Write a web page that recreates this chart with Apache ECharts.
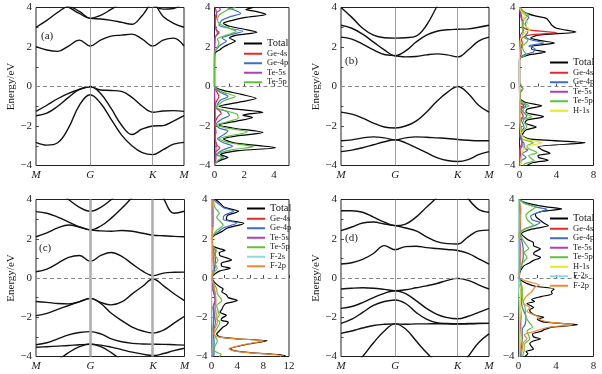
<!DOCTYPE html>
<html><head><meta charset="utf-8">
<script src="https://cdn.jsdelivr.net/npm/echarts@6/dist/echarts.min.js"></script>
<style>html,body{margin:0;padding:0;background:#fff}#c{width:602px;height:374px}</style>
</head><body><div id="c"></div>
<script>
// ---------- k-path ----------
const kPath = [0, 0.5774, 1.2440, 1.5774];
const kLabels = ['M', 'G', 'K', 'M'];
const kSamples = [0, 0.1155, 0.2309, 0.3464, 0.4619, 0.5774, 0.6885, 0.7996, 0.9107, 1.0218, 1.1329, 1.2440, 1.3551, 1.4662, 1.5774];
const eTicks = [-4, -2, 0, 2, 4];

// ---------- bands (a) ----------
const aV1 = [-1.26, -0.95, -0.62, -0.35, -0.15, -0.02, -0.18, -0.2, -0.25, -0.55, -1.0, -1.3, -1.24, -1.22, -1.26];
const aV2 = [-1.48, -1.35, -1.0, -0.55, -0.15, 0.0, -0.35, -1.1, -1.95, -2.43, -2.15, -2.0, -1.98, -1.75, -1.48];
const aV3 = [-2.83, -2.97, -2.85, -2.1, -0.95, -0.42, -0.85, -1.65, -2.45, -3.0, -3.35, -3.45, -3.2, -2.92, -2.83];
const aC1 = [2.02, 1.85, 1.78, 2.05, 2.35, 2.05, 2.35, 2.55, 2.6, 2.65, 2.4, 2.05, 2.35, 2.45, 2.05];
const aC2 = [3.0, 3.35, 3.75, 4.05, 3.8, 3.45, 3.42, 3.35, 3.25, 3.15, 3.6, 4.2, 3.55, 3.2, 3.0];
const aC3 = [4.6, 4.5, 4.3, 4.02, 3.7, 3.45, 3.6, 3.9, 4.2, 4.4, 4.3, 4.1, 3.92, 3.95, 4.3];

// ---------- bands (b) ----------
const bV1 = [-1.3, -1.4, -1.6, -1.85, -2.05, -2.1, -2.0, -1.75, -1.3, -0.75, -0.3, 0.0, -0.35, -0.95, -1.3];
const bV2 = [-2.75, -2.7, -2.6, -2.55, -2.6, -2.7, -2.6, -2.55, -2.57, -2.6, -2.63, -2.68, -2.72, -2.75, -2.75];
const bV3 = [-3.3, -3.22, -3.1, -2.95, -2.8, -2.7, -2.85, -3.1, -3.35, -3.6, -3.75, -3.8, -3.7, -3.45, -3.3];
const bC1 = [2.5, 2.4, 2.15, 1.85, 1.62, 1.56, 1.5, 1.52, 1.6, 1.65, 1.6, 1.5, 1.85, 2.3, 2.5];
const bC2 = [3.1, 2.95, 2.65, 2.25, 1.85, 1.56, 1.8, 2.25, 2.6, 2.8, 2.87, 2.9, 2.92, 3.0, 3.1];
const bC3 = [4.0, 3.5, 2.95, 2.6, 2.47, 2.45, 2.47, 2.55, 3.1, 4.05, 5.0, 5.5, 5.0, 4.5, 4.0];

// ---------- bands (c) ----------
const cV1 = [-1.2, -1.24, -1.3, -1.32, -1.22, -1.04, -1.25, -1.37, -1.22, -0.81, -0.42, -0.05, -0.4, -0.8, -1.15];
const cV2 = [-1.92, -1.8, -1.6, -1.4, -1.2, -1.04, -1.3, -1.8, -2.17, -2.5, -2.7, -2.8, -2.65, -2.3, -1.95];
const cV3 = [-3.4, -3.3, -3.1, -2.9, -2.78, -2.73, -2.85, -3.1, -3.25, -3.33, -3.36, -3.37, -3.38, -3.4, -3.42];
const cV4 = [-3.53, -3.5, -3.47, -3.44, -3.4, -3.38, -3.42, -3.52, -3.65, -3.78, -3.88, -3.95, -3.85, -3.7, -3.58];
const cV5 = [-5.0, -4.6, -4.2, -3.8, -3.5, -3.36, -3.5, -3.8, -4.2, -4.6, -5.0, -5.2, -5.2, -5.2, -5.0];
const cC1 = [0.32, 0.45, 0.75, 1.05, 1.15, 0.85, 1.15, 1.3, 1.1, 0.72, 0.35, 0.12, 0.25, 0.29, 0.3];
const cC2 = [2.1, 2.3, 2.55, 2.7, 2.6, 2.45, 2.4, 2.38, 2.42, 2.38, 2.28, 2.18, 2.15, 2.12, 2.1];
const cC3 = [3.38, 3.3, 3.1, 2.85, 2.6, 2.45, 2.65, 3.05, 3.55, 4.1, 4.6, 5.0, 4.05, 3.3, 3.4];
const cC4 = [5.5, 5.0, 4.5, 4.0, 3.6, 3.4, 3.6, 4.0, 4.5, 5.0, 5.5, 5.8, 5.5, 5.2, 5.5];

// ---------- bands (d) ----------
const dV1 = [-0.56, -0.52, -0.5, -0.52, -0.58, -0.65, -0.6, -0.5, -0.4, -0.28, -0.12, -0.02, -0.12, -0.35, -0.56];
const dV2 = [-1.55, -1.45, -1.25, -1.0, -0.78, -0.65, -0.8, -1.15, -1.55, -1.85, -2.02, -2.08, -1.95, -1.75, -1.55];
const dV3 = [-2.31, -2.1, -1.75, -1.4, -1.2, -1.12, -1.3, -1.75, -2.1, -2.28, -2.32, -2.33, -2.32, -2.31, -2.31];
const dV4 = [-2.82, -2.7, -2.55, -2.42, -2.36, -2.34, -2.6, -3.2, -3.8, -4.3, -4.6, -4.7, -4.0, -3.3, -2.85];
const dV5 = [-5.0, -4.6, -4.0, -3.3, -2.7, -2.34, -2.36, -2.34, -2.34, -2.33, -2.34, -2.35, -2.34, -2.32, -2.31];
const dC1 = [0.71, 0.78, 0.95, 1.25, 1.65, 1.44, 1.6, 1.62, 1.55, 1.5, 1.45, 1.4, 1.25, 0.98, 0.71];
const dC2 = [2.41, 2.6, 2.8, 2.85, 2.75, 2.67, 2.55, 2.4, 2.1, 1.85, 1.75, 1.73, 2.1, 2.4, 2.44];
const dC3 = [3.43, 3.43, 3.35, 3.1, 2.85, 2.67, 2.75, 3.1, 3.6, 4.1, 4.6, 5.0, 4.05, 3.5, 3.35];

// ---------- DOS (a): [energy, dos] ----------
const dosA_total = [[4,2.6],[3.9,2.1],[3.78,2.9],[3.65,3.45],[3.5,2.1],[3.35,1.2],[3.2,0.6],[3.05,1.0],[2.9,2.0],[2.75,2.85],[2.6,1.5],[2.45,1.0],[2.3,1.4],[2.15,1.0],[2.0,0.6],[1.85,0.35],[1.75,0.1],[1.65,0.02],[1.0,0],[0,0],[-0.05,0.05],[-0.2,0.6],[-0.4,1.8],[-0.6,2.8],[-0.8,1.6],[-1.0,0.3],[-1.15,1.5],[-1.3,3.25],[-1.45,1.9],[-1.57,2.55],[-1.75,1.5],[-1.95,0.3],[-2.1,1.2],[-2.33,3.25],[-2.5,1.5],[-2.65,0.6],[-2.85,1.3],[-3.1,4.1],[-3.25,1.6],[-3.45,0.4],[-3.6,0.9],[-3.7,0.5],[-3.85,0.1],[-4,0]];
const dosA_ge4s = [[4,0.05],[3.6,0.15],[3.3,0.05],[2.9,0.1],[2.72,0.3],[2.5,0.05],[2.0,0.02],[1.7,0],[0,0],[-0.2,0.1],[-0.5,0.3],[-0.8,0.1],[-1.05,0.05],[-1.2,0.3],[-1.35,0.45],[-1.55,0.2],[-1.9,0.02],[-2.3,0.1],[-2.6,0.03],[-2.95,0.15],[-3.12,0.35],[-3.35,0.05],[-3.6,0.1],[-4,0]];
const dosA_ge4p = [[4,0.8],[3.85,1.4],[3.7,1.75],[3.55,1.1],[3.35,0.5],[3.1,0.3],[2.95,1.0],[2.8,1.9],[2.6,1.0],[2.45,0.5],[2.3,0.8],[2.1,0.4],[1.9,0.15],[1.75,0.03],[1.6,0],[0,0],[-0.1,0.05],[-0.3,0.4],[-0.5,0.9],[-0.7,0.4],[-0.9,0.2],[-1.1,0.15],[-1.25,0.8],[-1.45,1.0],[-1.65,0.5],[-1.9,0.1],[-2.1,0.3],[-2.25,0.9],[-2.45,0.6],[-2.65,0.2],[-2.85,0.6],[-3.02,1.2],[-3.2,0.6],[-3.45,0.1],[-3.58,0.6],[-3.72,0.3],[-3.9,0.05],[-4,0]];
const dosA_te5s = [[4,0.3],[3.9,0.4],[3.75,0.15],[3.4,0.05],[2.9,0.1],[2.7,0.2],[2.5,0.05],[1.7,0],[0,0],[-1.3,0.05],[-2.3,0.05],[-3.1,0.1],[-3.6,0.05],[-4,0]];
const dosA_te5p = [[4,1.4],[3.85,0.8],[3.6,0.3],[3.35,0.2],[3.15,0.4],[2.95,1.0],[2.8,1.45],[2.6,0.8],[2.4,0.2],[2.2,0.3],[2.0,0.2],[1.8,0.05],[1.7,0],[0,0],[-0.1,0.1],[-0.3,0.6],[-0.5,1.4],[-0.7,0.7],[-0.9,0.3],[-1.05,0.1],[-1.2,0.6],[-1.4,1.5],[-1.6,1.6],[-1.8,0.8],[-1.95,0.1],[-2.1,0.8],[-2.3,2.2],[-2.5,1.0],[-2.65,0.3],[-2.85,1.0],[-3.05,2.6],[-3.2,1.2],[-3.45,0.2],[-3.6,0.5],[-3.75,0.2],[-4,0]];

// ---------- DOS (b) ----------
const dosB_total = [[4,0.05],[3.8,0.4],[3.7,0.8],[3.56,1.8],[3.45,2.9],[3.3,3.2],[3.1,3.5],[2.95,4.0],[2.76,6.1],[2.6,2.0],[2.45,1.2],[2.35,2.0],[2.2,3.8],[2.05,1.4],[1.9,1.3],[1.75,2.8],[1.6,1.0],[1.45,0.1],[1.3,0],[0.2,0],[0.05,0.15],[-0.1,0.35],[-0.3,0.1],[-0.6,0.05],[-0.8,0.6],[-0.98,2.4],[-1.15,0.8],[-1.3,0.7],[-1.53,2.6],[-1.7,0.8],[-1.85,0.6],[-2.05,1.8],[-2.2,0.7],[-2.45,0.3],[-2.65,1.0],[-2.85,7.1],[-3.05,2.0],[-3.2,2.4],[-3.38,3.3],[-3.5,2.0],[-3.6,2.1],[-3.73,3.1],[-3.85,1.5],[-4,0.8]];
const dosB_ge4s = [[4,0],[3.6,0.2],[3.3,0.3],[3.0,0.4],[2.85,1.2],[2.72,4.0],[2.6,1.0],[2.4,0.2],[2.2,0.3],[1.9,0.15],[1.7,0.2],[1.4,0],[0,0],[-0.8,0.05],[-0.97,0.45],[-1.15,0.05],[-1.5,0.4],[-1.7,0.05],[-2.1,0.15],[-2.5,0.02],[-2.85,0.3],[-3.1,0.05],[-3.4,0.1],[-4,0]];
const dosB_ge4p = [[4,0],[3.7,0.4],[3.5,1.0],[3.35,0.8],[3.15,0.6],[2.95,0.8],[2.75,0.9],[2.55,0.6],[2.4,1.0],[2.2,2.6],[2.05,1.0],[1.9,1.7],[1.75,1.5],[1.6,0.5],[1.45,0.05],[1.3,0],[0,0],[-0.8,0.1],[-0.97,0.7],[-1.15,0.2],[-1.5,0.8],[-1.7,0.2],[-2.05,0.5],[-2.4,0.1],[-2.7,0.2],[-2.9,0.5],[-3.1,0.5],[-3.22,0.9],[-3.4,0.3],[-3.6,0.7],[-3.75,0.2],[-4,0.1]];
const dosB_te5s = [[4,0],[3.5,0.15],[3.2,0.4],[3.0,0.3],[2.85,0.45],[2.6,0.1],[2.2,0.1],[1.7,0.05],[1.4,0],[0,0],[-1.0,0.05],[-1.5,0.05],[-2.85,0.25],[-3.0,0.3],[-3.2,0.05],[-4,0]];
const dosB_te5p = [[4,0.1],[3.8,0.4],[3.62,1.0],[3.45,0.6],[3.2,0.3],[2.95,0.3],[2.75,0.4],[2.55,0.3],[2.35,0.9],[2.2,0.7],[2.05,0.3],[1.85,0.4],[1.62,0.7],[1.45,0.1],[1.3,0],[0.2,0],[0.05,0.2],[-0.12,0.35],[-0.3,0.1],[-0.6,0],[-0.8,0.3],[-0.98,1.0],[-1.15,0.4],[-1.3,0.4],[-1.53,1.3],[-1.7,0.4],[-2.05,0.8],[-2.3,0.2],[-2.65,0.3],[-2.85,1.5],[-3.0,0.8],[-3.15,1.0],[-3.35,1.9],[-3.5,1.0],[-3.62,1.2],[-3.75,1.6],[-3.9,0.6],[-4,0.4]];
const dosB_h1s = [[4,0],[3.8,0.2],[3.62,0.6],[3.45,0.4],[3.25,0.9],[3.05,0.7],[2.9,1.1],[2.75,0.6],[2.55,0.3],[2.4,0.1],[2.1,0.05],[1.5,0],[0,0],[-0.9,0.05],[-1.5,0.05],[-2.3,0.1],[-2.55,0.4],[-2.7,1.0],[-2.85,2.4],[-3.0,1.0],[-3.15,0.5],[-3.3,0.3],[-3.6,0.2],[-4,0.1]];

// ---------- DOS (c) ----------
const dosC_total = [[4,0.6],[3.85,1.2],[3.6,2.0],[3.4,4.2],[3.2,2.5],[3.0,2.3],[2.78,5.0],[2.55,2.5],[2.35,1.5],[2.2,0.6],[2.1,0.2],[2.0,0.05],[1.75,0.05],[1.6,0.3],[1.5,1.2],[1.4,2.1],[1.3,1.2],[1.15,1.3],[0.92,3.1],[0.75,1.5],[0.6,1.6],[0.5,2.9],[0.35,1.2],[0.2,0.5],[0.1,0.2],[0,0.1],[-0.15,0.3],[-0.3,0.7],[-0.45,1.3],[-0.56,1.8],[-0.7,1.6],[-0.85,2.3],[-1.0,2.6],[-1.15,4.0],[-1.3,2.2],[-1.45,1.8],[-1.6,1.6],[-1.75,1.3],[-1.9,2.3],[-2.05,1.6],[-2.15,1.5],[-2.25,2.6],[-2.4,2.3],[-2.5,1.8],[-2.7,1.2],[-2.85,0.8],[-3.0,1.3],[-3.1,4.0],[-3.2,8.6],[-3.35,6.0],[-3.45,4.5],[-3.6,2.9],[-3.7,3.5],[-3.8,6.0],[-3.95,11.4],[-4,11.2]];
const dosC_ge4s = [[4,0],[3.4,0.2],[2.8,0.2],[2.0,0],[1.4,0.3],[1.0,0.6],[0.5,0.5],[0.2,0.2],[0,0],[-0.5,0.2],[-1.2,0.6],[-1.5,0.2],[-1.9,0.4],[-2.3,0.3],[-2.8,0.1],[-3.2,0.1],[-4,0.05]];
const dosC_ge4p = [[4,0.3],[3.8,1.0],[3.6,1.8],[3.4,3.4],[3.2,2.0],[3.0,1.8],[2.8,3.9],[2.55,1.8],[2.35,1.0],[2.2,0.4],[2.05,0.05],[1.6,0.1],[1.4,0.6],[0.9,0.6],[0.5,0.5],[0.2,0.2],[0,0.05],[-0.5,0.4],[-1.15,0.6],[-1.9,0.5],[-2.25,0.6],[-2.8,0.3],[-3.2,0.4],[-3.9,0.4],[-4,0.3]];
const dosC_te5s = [[4,0.1],[3.0,0.2],[2.0,0],[1.4,0.2],[0.9,0.3],[0.5,0.3],[0,0],[-0.6,0.2],[-1.1,0.6],[-1.4,0.3],[-1.9,0.3],[-2.3,0.3],[-3.0,0.2],[-3.9,0.2],[-4,0.1]];
const dosC_te5p = [[4,0.3],[3.6,0.5],[3.3,1.2],[3.1,0.8],[2.7,1.8],[2.45,0.9],[2.2,0.3],[2.0,0],[1.6,0.2],[1.4,0.8],[1.2,0.5],[0.9,1.0],[0.7,0.6],[0.5,0.9],[0.25,0.3],[0,0.05],[-0.3,0.4],[-0.55,0.8],[-0.8,0.9],[-1.15,1.6],[-1.4,0.8],[-1.9,1.2],[-2.1,0.8],[-2.25,1.3],[-2.6,0.8],[-2.85,0.4],[-3.2,0.9],[-3.5,0.5],[-3.7,0.4],[-3.9,1.5],[-4,1.2]];
const dosC_f2s = [[4,0.05],[0,0],[-2,0.05],[-3.2,0.1],[-4,0.05]];
const dosC_f2p = [[4,0.1],[3.4,0.3],[2.8,0.3],[2.2,0.1],[1.5,0.2],[1.0,0.2],[0.5,0.3],[0,0.05],[-0.3,0.3],[-0.6,0.5],[-1.15,0.7],[-1.5,0.6],[-1.9,0.8],[-2.25,0.9],[-2.6,0.5],[-2.85,0.4],[-3.0,1.0],[-3.1,3.8],[-3.2,8.2],[-3.35,5.7],[-3.45,4.3],[-3.6,2.7],[-3.7,3.3],[-3.8,5.7],[-3.95,10.8],[-4,10.6]];

// ---------- DOS (d) ----------
const dosD_total = [[4,0.1],[3.9,0.4],[3.75,1.5],[3.62,3.0],[3.52,4.6],[3.4,2.6],[3.25,1.8],[3.1,1.9],[2.95,2.3],[2.8,2.7],[2.67,3.2],[2.5,1.5],[2.38,0.7],[2.25,0.3],[2.1,0.6],[1.95,1.0],[1.8,1.6],[1.65,1.6],[1.48,2.35],[1.35,1.8],[1.22,1.6],[1.05,2.35],[0.9,1.6],[0.78,1.2],[0.63,0.6],[0.45,0.3],[0.3,0.15],[0.1,0.1],[0,0.05],[-0.13,0.3],[-0.3,1.0],[-0.42,1.8],[-0.56,3.8],[-0.7,3.5],[-0.8,3.6],[-0.95,2.4],[-1.1,1.4],[-1.2,1.7],[-1.3,0.9],[-1.5,1.6],[-1.62,1.2],[-1.75,1.3],[-1.9,1.8],[-2.0,2.7],[-2.1,2.0],[-2.25,2.8],[-2.38,6.3],[-2.5,3.6],[-2.62,2.8],[-2.72,2.4],[-2.85,1.5],[-3.0,1.6],[-3.1,2.35],[-3.22,1.5],[-3.35,1.2],[-3.5,1.4],[-3.62,1.6],[-3.75,0.8],[-3.85,1.0],[-4,0.7]];
const dosD_ge4s = [[4,0],[3.5,0.2],[2.7,0.2],[2.0,0.1],[1.4,0.2],[1.0,0.2],[0,0],[-0.5,0.2],[-1.0,0.3],[-1.5,0.2],[-2.0,0.3],[-2.4,0.2],[-3.1,0.2],[-4,0.1]];
const dosD_ge4p = [[4,0.1],[3.8,0.8],[3.6,2.0],[3.5,3.0],[3.35,2.2],[3.15,1.3],[2.95,1.5],[2.83,2.3],[2.65,1.6],[2.5,0.7],[2.3,0.2],[2.0,0.3],[1.5,0.5],[1.05,0.5],[0.6,0.3],[0.2,0.05],[0,0],[-0.5,0.3],[-1.0,0.3],[-1.5,0.4],[-2.0,0.8],[-2.38,0.7],[-2.6,0.4],[-3.1,0.4],[-3.6,0.3],[-4,0.2]];
const dosD_te5s = [[4,0.05],[3.5,0.1],[2.5,0.1],[1.5,0.15],[0.5,0.1],[0,0],[-0.6,0.35],[-1.2,0.2],[-2.0,0.2],[-2.5,0.3],[-3.2,0.2],[-4,0.1]];
const dosD_te5p = [[4,0.1],[3.8,0.6],[3.6,1.8],[3.4,1.2],[3.2,0.8],[3.0,0.9],[2.85,1.2],[2.7,1.6],[2.5,0.6],[2.3,0.2],[2.0,0.4],[1.7,0.8],[1.5,1.1],[1.3,0.6],[1.05,0.9],[0.8,0.5],[0.5,0.2],[0,0.05],[-0.3,0.3],[-0.6,0.4],[-1.0,0.4],[-1.5,0.7],[-2.0,0.8],[-2.3,1.2],[-2.5,1.5],[-2.7,0.9],[-3.1,1.2],[-3.4,0.6],[-3.7,0.6],[-4,0.4]];
const dosD_h1s = [[4,0],[3.0,0.05],[2.0,0.05],[0,0],[-0.6,0.25],[-1.5,0.2],[-2.4,0.3],[-3.2,0.2],[-4,0.1]];
const dosD_f2s = [[4,0],[0,0],[-2.4,0.1],[-4,0.1]];
const dosD_f2p = [[4,0.05],[3.5,0.25],[3.0,0.2],[2.5,0.15],[2.2,0.05],[1.5,0.15],[1.0,0.2],[0.5,0.1],[0,0.05],[-0.1,0.5],[-0.22,1.3],[-0.35,2.2],[-0.5,1.7],[-0.7,1.4],[-0.9,0.9],[-1.1,0.6],[-1.3,0.5],[-1.5,1.2],[-1.7,0.9],[-1.95,2.0],[-2.1,2.2],[-2.25,3.3],[-2.38,5.8],[-2.5,3.3],[-2.6,2.5],[-2.75,1.5],[-2.9,0.6],[-3.1,0.9],[-3.3,0.5],[-3.6,0.4],[-4,0.3]];

// DOS axis ranges and ticks
const dosMaxA = 5, dosMaxB = 8, dosMaxC = 12, dosMaxD = 8;
const dosLabelsA = [0, 2, 4], dosTicksA = [0, 1, 2, 3, 4];
const dosLabelsB = [0, 4, 8], dosTicksB = [0, 2, 4, 6, 8];
const dosLabelsC = [0, 4, 8, 12], dosTicksC = [0, 2, 4, 6, 8, 10, 12];
const dosLabelsD = [0, 4, 8], dosTicksD = [0, 2, 4, 6, 8];

// ---------- styling ----------
const FONT = 'Liberation Serif';
const COLORS = {
  'Total': '#000000', 'Ge-4s': '#e8262a', 'Ge-4p': '#3a6ec8', 'Te-5s': '#b040b4',
  'Te-5p': '#5cc23a', 'H-1s': '#e6e628', 'F-2s': '#86dbe4', 'F-2p': '#f28a30'
};
const minus = v => (v < 0 ? '\u2212' + (-v) : String(v));

const grids = [
  {left: 36, top: 7.5, width: 148, height: 158},
  {left: 214.5, top: 7.5, width: 74.5, height: 158},
  {left: 341, top: 7.5, width: 148, height: 158},
  {left: 519.5, top: 7.5, width: 74, height: 158},
  {left: 36, top: 199.5, width: 148.5, height: 157},
  {left: 211.5, top: 199.5, width: 77.5, height: 157},
  {left: 341, top: 199.5, width: 148, height: 157},
  {left: 518.5, top: 199.5, width: 75, height: 157}
].map(g => Object.assign({show: true, borderColor: '#222', borderWidth: 1, backgroundColor: 'transparent', containLabel: false}, g));

const xAxes = [], yAxes = [], series = [];

function yAxisFor(gi, withName) {
  const ax = {
    gridIndex: gi, type: 'value', min: -4, max: 4, interval: 2,
    axisLine: {show: false},
    axisTick: {show: true, inside: true, length: 3, lineStyle: {color: '#222', width: 0.8}},
    minorTick: {show: true, splitNumber: 2, length: 2.5, lineStyle: {color: '#222', width: 0.8}},
    splitLine: {show: false},
    axisLabel: {fontFamily: FONT, fontSize: 11, color: '#222', margin: 4, formatter: minus}
  };
  if (withName) {
    ax.name = 'Energy/eV';
    ax.nameLocation = 'middle';
    ax.nameGap = 19;
    ax.nameTextStyle = {fontFamily: FONT, fontSize: 11, color: '#222'};
  }
  return ax;
}

function addBandPanel(gi, bands, vlineStyle) {
  xAxes.push({
    gridIndex: gi, type: 'value', min: kPath[0], max: kPath[3],
    axisLine: {show: false}, axisTick: {show: false}, splitLine: {show: false},
    axisLabel: {
      customValues: kPath, showMinLabel: true, showMaxLabel: true,
      fontFamily: FONT, fontStyle: 'italic', fontSize: 11, color: '#222', margin: 4,
      formatter: v => { let i = 0; kPath.forEach((p, j) => { if (Math.abs(p - v) < 1e-3) i = j; }); return kLabels[i]; }
    }
  });
  yAxes.push(yAxisFor(gi, true));
  bands.forEach((b, bi) => {
    const s = {
      type: 'line', xAxisIndex: gi, yAxisIndex: gi, silent: true,
      data: kSamples.map((k, j) => [k, b[j]]),
      smooth: 0.4, symbol: 'none', clip: true, z: 3,
      lineStyle: {color: '#111', width: 1.4}
    };
    if (bi === 0) {
      s.markLine = {
        silent: true, symbol: ['none', 'none'], label: {show: false}, animation: false,
        data: [
          {xAxis: kPath[1], lineStyle: vlineStyle},
          {xAxis: kPath[2], lineStyle: vlineStyle},
          {yAxis: 0, lineStyle: {color: '#888', width: 1, type: [4, 3]}}
        ]
      };
    }
    series.push(s);
  });
}

function addDosPanel(gi, maxX, labels, ticks, curves) {
  xAxes.push({
    gridIndex: gi, type: 'value', min: 0, max: maxX,
    axisLine: {show: false}, splitLine: {show: false},
    axisTick: {show: true, inside: true, length: 3, customValues: ticks, lineStyle: {color: '#222', width: 0.8}},
    axisLabel: {customValues: labels, showMinLabel: true, showMaxLabel: true, fontFamily: FONT, fontSize: 11, color: '#222', margin: 4}
  });
  yAxes.push(yAxisFor(gi, false));
  curves.forEach((c, ci) => {
    const s = {
      name: c[0], type: 'line', xAxisIndex: gi, yAxisIndex: gi, silent: true,
      data: c[1].map(p => [p[1], p[0]]),
      smooth: 0.25, symbol: 'none', clip: true, color: COLORS[c[0]], z: c[0] === 'Total' ? 3 : 4,
      lineStyle: {color: COLORS[c[0]], width: 1.2}
    };
    if (ci === 0) {
      s.markLine = {
        silent: true, symbol: ['none', 'none'], label: {show: false}, animation: false,
        data: [{yAxis: 0, lineStyle: {color: '#888', width: 1, type: [4, 3]}}]
      };
    }
    series.push(s);
  });
}

const thinV = {color: '#888', width: 0.8, type: 'solid'};
const thickV = {color: '#b0b0b0', width: 2.6, type: 'solid'};

addBandPanel(0, [aV1, aV2, aV3, aC1, aC2, aC3], thinV);
addDosPanel(1, dosMaxA, dosLabelsA, dosTicksA, [['Total', dosA_total], ['Ge-4s', dosA_ge4s], ['Ge-4p', dosA_ge4p], ['Te-5s', dosA_te5s], ['Te-5p', dosA_te5p]]);
addBandPanel(2, [bV1, bV2, bV3, bC1, bC2, bC3], thinV);
addDosPanel(3, dosMaxB, dosLabelsB, dosTicksB, [['Total', dosB_total], ['Ge-4s', dosB_ge4s], ['Ge-4p', dosB_ge4p], ['Te-5s', dosB_te5s], ['Te-5p', dosB_te5p], ['H-1s', dosB_h1s]]);
addBandPanel(4, [cV1, cV2, cV3, cV4, cV5, cC1, cC2, cC3, cC4], thickV);
addDosPanel(5, dosMaxC, dosLabelsC, dosTicksC, [['Total', dosC_total], ['Ge-4s', dosC_ge4s], ['Ge-4p', dosC_ge4p], ['Te-5s', dosC_te5s], ['Te-5p', dosC_te5p], ['F-2s', dosC_f2s], ['F-2p', dosC_f2p]]);
addBandPanel(6, [dV1, dV2, dV3, dV4, dV5, dC1, dC2, dC3], thinV);
addDosPanel(7, dosMaxD, dosLabelsD, dosTicksD, [['Total', dosD_total], ['Ge-4s', dosD_ge4s], ['Ge-4p', dosD_ge4p], ['Te-5s', dosD_te5s], ['Te-5p', dosD_te5p], ['H-1s', dosD_h1s], ['F-2s', dosD_f2s], ['F-2p', dosD_f2p]]);

const legendA = ['Total', 'Ge-4s', 'Ge-4p', 'Te-5s', 'Te-5p'];
const legendB = ['Total', 'Ge-4s', 'Ge-4p', 'Te-5s', 'Te-5p', 'H-1s'];
const legendC = ['Total', 'Ge-4s', 'Ge-4p', 'Te-5s', 'Te-5p', 'F-2s', 'F-2p'];
const legendD = ['Total', 'Ge-4s', 'Ge-4p', 'Te-5s', 'Te-5p', 'H-1s', 'F-2s', 'F-2p'];

function legendFor(names, left, top) {
  return {
    orient: 'vertical', left: left, top: top, padding: 0, itemGap: 0,
    icon: 'rect', itemWidth: 18, itemHeight: 2, selectedMode: false,
    textStyle: {fontFamily: FONT, fontSize: 8.5, color: '#222', lineHeight: 9.5},
    data: names.map(n => n === 'Total'
      ? {name: n, textStyle: {fontSize: 10.5, lineHeight: 9.5}}
      : {name: n})
  };
}

const option = {
  animation: false,
  backgroundColor: '#fff',
  grid: grids,
  xAxis: xAxes,
  yAxis: yAxes,
  series: series,
  legend: [
    legendFor(legendA, 244, 38),
    legendFor(legendB, 550, 57),
    legendFor(legendC, 247, 203),
    legendFor(legendD, 550, 213)
  ],
  graphic: [
    {type: 'text', left: 41, top: 31, style: {text: '(a)', font: '11px "Liberation Serif"', fill: '#222'}},
    {type: 'text', left: 345, top: 56, style: {text: '(b)', font: '11px "Liberation Serif"', fill: '#222'}},
    {type: 'text', left: 39, top: 243, style: {text: '(c)', font: '11px "Liberation Serif"', fill: '#222'}},
    {type: 'text', left: 345, top: 233, style: {text: '(d)', font: '11px "Liberation Serif"', fill: '#222'}}
  ]
};

const chart = echarts.init(document.getElementById('c'), null, {renderer: 'canvas'});
chart.setOption(option);
</script>
</body></html>
